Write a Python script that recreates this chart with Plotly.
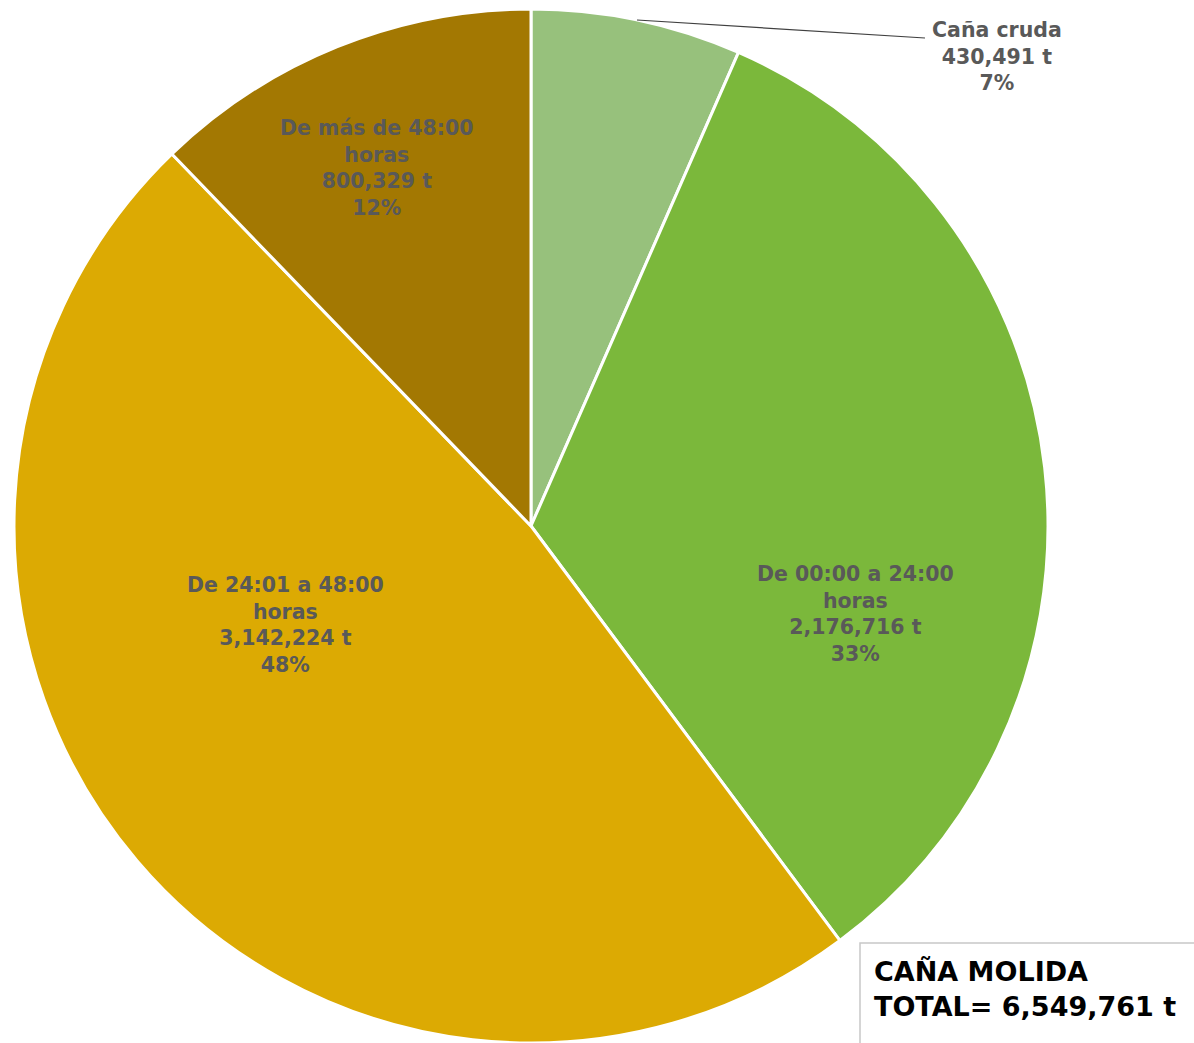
import math
import plotly.graph_objects as go

categories = ["Caña cruda", "De 00:00 a 24:00 horas", "De 24:01 a 48:00 horas", "De más de 48:00 horas"]
label_lines = ["Caña cruda", "De 00:00 a 24:00<br>horas", "De 24:01 a 48:00<br>horas", "De más de 48:00<br>horas"]
values = [430491, 2176716, 3142224, 800329]
colors = ["#97c17c", "#7bb83b", "#dcaa03", "#a37802"]
total_label = "CAÑA MOLIDA<br>TOTAL= 6,549,761 t"

W, H = 1194, 1043
cx, cy, r = 531, 526, 517
# label centres (pixels) for each slice, as placed in the reference
label_pos = [(997, 56), (855, 614), (285, 625), (377, 168)]
FONT = "DejaVu Sans"

fig = go.Figure(go.Pie(
    labels=categories,
    values=values,
    textinfo="none",
    sort=False,
    direction="clockwise",
    rotation=0,
    marker=dict(colors=colors, line=dict(color="white", width=3)),
    domain=dict(x=[(cx - r) / W, (cx + r) / W], y=[1 - (cy + r) / H, 1 - (cy - r) / H]),
    showlegend=False,
    hoverinfo="label+value+percent",
))

total = sum(values)
for name, v, (px, py) in zip(label_lines, values, label_pos):
    txt = f"{name}<br>{v:,} t<br>{round(100 * v / total)}%"
    fig.add_annotation(xref="paper", yref="paper", x=px / W, y=1 - py / H,
                       xanchor="center", yanchor="middle", align="center", showarrow=False,
                       text=txt, font=dict(family=FONT, size=20.5, color="#595959", weight="bold"))

# leader line for the small slice: from middle of its arc to its label
mid_frac = values[0] / 2 / total
ang = 2 * math.pi * mid_frac
sx, sy = cx + r * math.sin(ang), cy - r * math.cos(ang)
fig.add_shape(type="line", xref="paper", yref="paper",
              x0=sx / W, y0=1 - sy / H, x1=925 / W, y1=1 - 38 / H,
              line=dict(color="#404040", width=1.2))

fig.add_shape(type="rect", xref="paper", yref="paper",
              x0=860 / W, x1=1.02, y0=-0.02, y1=1 - 943 / H,
              line=dict(color="#c8c8c8", width=1.5), fillcolor="white", layer="above")
fig.add_annotation(xref="paper", yref="paper", x=872 / W, y=1 - 954 / H,
                   xanchor="left", yanchor="top", align="left", showarrow=False,
                   text=total_label,
                   font=dict(family=FONT, size=27, color="black", weight="bold"))

fig.update_layout(width=W, height=H, margin=dict(l=0, r=0, t=0, b=0),
                  paper_bgcolor="white", plot_bgcolor="white")
fig.write_html("out.html", config={"displayModeBar": False},
               post_script="document.body.style.margin='0px';")
